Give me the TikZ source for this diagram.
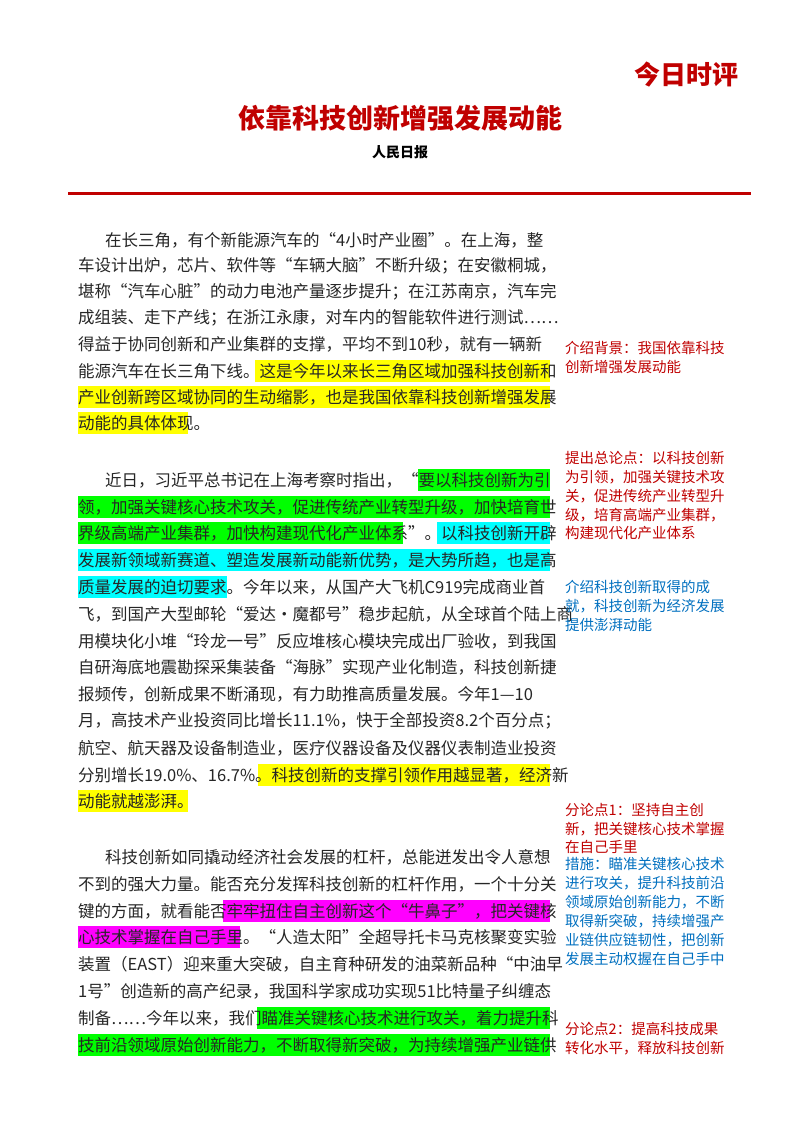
\documentclass[tikz,border=0pt]{standalone}
\usepackage{fontspec}
\setmainfont{Noto Sans CJK SC}
\newlength\cjkgap
\setlength\cjkgap{7.5pt}
\XeTeXinterchartokenstate=1
\XeTeXinterchartoks 1 1 = {\hskip\cjkgap plus 1fil minus 2pt\relax}
\XeTeXinterchartoks 1 2 = {\hskip\cjkgap plus 1fil minus 2pt\relax}
\XeTeXinterchartoks 1 3 = {\hskip\cjkgap plus 1fil minus 2pt\relax}
\XeTeXinterchartoks 2 1 = {\hskip\cjkgap plus 1fil minus 2pt\relax}
\XeTeXinterchartoks 3 1 = {\hskip\cjkgap plus 1fil minus 2pt\relax}
\XeTeXinterchartoks 3 2 = {\hskip\cjkgap plus 1fil minus 2pt\relax}
\XeTeXinterchartoks 2 2 = {\hskip\cjkgap plus 1fil minus 2pt\relax}
\XeTeXinterchartoks 3 3 = {\hskip\cjkgap plus 1fil minus 2pt\relax}
\XeTeXinterchartoks 0 1 = {\hskip\cjkgap plus 1fil minus 2pt\relax}
\XeTeXinterchartoks 1 0 = {\hskip\cjkgap plus 1fil minus 2pt\relax}
\XeTeXinterchartoks 0 2 = {\hskip\cjkgap plus 1fil minus 2pt\relax}
\XeTeXinterchartoks 3 0 = {\hskip\cjkgap plus 1fil minus 2pt\relax}
\newcommand\JL[2]{\makebox[#1][s]{#2}}
\definecolor{tred}{HTML}{C00000}
\definecolor{nblue}{HTML}{0070C0}
\definecolor{body}{HTML}{262626}
\definecolor{hy}{HTML}{FFFF00}
\definecolor{hg}{HTML}{00FF00}
\definecolor{hc}{HTML}{00FFFF}
\definecolor{hm}{HTML}{FF00FF}
\tikzset{
  bl/.style={anchor=west,inner sep=0pt,text=body,font=\fontsize{16.5}{16.5}\selectfont\setlength\cjkgap{6.3pt}},
  nl/.style={anchor=west,inner sep=0pt,font=\fontsize{14.5}{14.5}\selectfont\setlength\cjkgap{5pt}},
}
\newcommand\hl[4]{\fill[#1] (#2,#4-11) rectangle (#3,#4+11);}
\begin{document}
\begin{tikzpicture}[x=1pt,y=-1pt]
\useasboundingbox (0,0) rectangle (800,1132);
\fill[white] (0,0) rectangle (800,1132);
% header
\node[text=tred,font=\fontsize{26}{26}\selectfont\bfseries\setlength\cjkgap{0pt}] (brand) at (686,75) {今日时评};
\node[text=tred,font=\fontsize{27}{27}\selectfont\bfseries\setlength\cjkgap{0pt}] (title) at (400,118) {依靠科技创新增强发展动能};
\node[text=black,font=\fontsize{14}{14}\selectfont\bfseries\setlength\cjkgap{0pt}] (src) at (400,152) {人民日报};
\coordinate (rl) at (68,193); \coordinate (rr) at (751,193);
\draw[tred,line width=3pt] (rl) -- (rr);
% highlights p1
\hl{hy}{255}{550}{371}
\hl{hy}{78}{550}{397}
\hl{hy}{78}{188}{423}
% p2
\hl{hg}{418}{550}{480}
\hl{hg}{78}{550}{507}
\hl{hg}{78}{403}{533}
\hl{hc}{437}{550}{533}
\hl{hc}{78}{550}{560}
\hl{hc}{78}{227}{587}
\hl{hy}{258}{550}{775}
\hl{hy}{78}{188}{801}
% p3
\hl{hm}{223}{550}{911}
\hl{hm}{78}{240}{937}
\hl{hg}{257}{550}{1018}
\hl{hg}{78}{550}{1045}
% paragraph 1
\node[bl] (a1) at (105,240) {\JL{443pt}{在长三角，有个新能源汽车的“4小时产业圈”。在上海，整}};
\node[bl] (a2) at (78,266) {\JL{470pt}{车设计出炉，芯片、软件等“车辆大脑”不断升级；在安徽桐城，}};
\node[bl] (a3) at (78,292) {\JL{470pt}{堪称“汽车心脏”的动力电池产量逐步提升；在江苏南京，汽车完}};
\node[bl] (a4) at (78,318) {\JL{470pt}{成组装、走下产线；在浙江永康，对车内的智能软件进行测试……}};
\node[bl] (a5) at (78,344) {\JL{470pt}{得益于协同创新和产业集群的支撑，平均不到10秒，就有一辆新}};
\node[bl] (a6) at (78,371) {\JL{470pt}{能源汽车在长三角下线。这是今年以来长三角区域加强科技创新和}};
\node[bl] (a7) at (78,397) {\JL{470pt}{产业创新跨区域协同的生动缩影，也是我国依靠科技创新增强发展}};
\node[bl] (a8) at (78,423) {动能的具体体现。};
% paragraph 2
\node[bl] (b1) at (105,480) {\JL{443pt}{近日，习近平总书记在上海考察时指出，“要以科技创新为引}};
\node[bl] (b2) at (78,507) {\JL{470pt}{领，加强关键核心技术攻关，促进传统产业转型升级，加快培育世}};
\node[bl] (b3) at (78,533) {\JL{470pt}{界级高端产业集群，加快构建现代化产业体系”。以科技创新开辟}};
\node[bl] (b4) at (78,560) {\JL{470pt}{发展新领域新赛道、塑造发展新动能新优势，是大势所趋，也是高}};
\node[bl] (b5) at (78,587) {\JL{470pt}{质量发展的迫切要求。今年以来，从国产大飞机C919完成商业首}};
\node[bl] (b6) at (78,614) {\JL{470pt}{飞，到国产大型邮轮“爱达·魔都号”稳步起航，从全球首个陆上商}};
\node[bl] (b7) at (78,641) {\JL{470pt}{用模块化小堆“玲龙一号”反应堆核心模块完成出厂验收，到我国}};
\node[bl] (b8) at (78,667) {\JL{470pt}{自研海底地震勘探采集装备“海脉”实现产业化制造，科技创新捷}};
\node[bl] (b9) at (78,694) {\JL{470pt}{报频传，创新成果不断涌现，有力助推高质量发展。今年1—10}};
\node[bl] (b10) at (78,721) {\JL{470pt}{月，高技术产业投资同比增长11.1\%，快于全部投资8.2个百分点；}};
\node[bl] (b11) at (78,748) {\JL{470pt}{航空、航天器及设备制造业，医疗仪器设备及仪器仪表制造业投资}};
\node[bl] (b12) at (78,775) {\JL{470pt}{分别增长19.0\%、16.7\%。科技创新的支撑引领作用越显著，经济新}};
\node[bl] (b13) at (78,801) {动能就越澎湃。};
% paragraph 3
\node[bl] (c1) at (105,857) {\JL{443pt}{科技创新如同撬动经济社会发展的杠杆，总能迸发出令人意想}};
\node[bl] (c2) at (78,884) {\JL{470pt}{不到的强大力量。能否充分发挥科技创新的杠杆作用，一个十分关}};
\node[bl] (c3) at (78,911) {\JL{470pt}{键的方面，就看能否牢牢扭住自主创新这个“牛鼻子”，把关键核}};
\node[bl] (c4) at (78,937) {\JL{470pt}{心技术掌握在自己手里。“人造太阳”全超导托卡马克核聚变实验}};
\node[bl] (c5) at (78,964) {\JL{470pt}{装置（EAST）迎来重大突破，自主育种研发的油菜新品种“中油早}};
\node[bl] (c6) at (78,991) {\JL{470pt}{1号”创造新的高产纪录，我国科学家成功实现51比特量子纠缠态}};
\node[bl] (c7) at (78,1018) {\JL{470pt}{制备……今年以来，我们瞄准关键核心技术进行攻关，着力提升科}};
\node[bl] (c8) at (78,1045) {\JL{470pt}{技前沿领域原始创新能力，不断取得新突破，为持续增强产业链供}};
% notes
\begin{scope}[every node/.style={nl,text=tred}]
\node (n1a) at (565,348) {\JL{180pt}{介绍背景：我国依靠科技}};
\node (n1b) at (565,367) {创新增强发展动能};
\node (n2a) at (565,458) {\JL{180pt}{提出总论点：以科技创新}};
\node (n2b) at (565,477) {\JL{180pt}{为引领，加强关键技术攻}};
\node (n2c) at (565,496) {\JL{180pt}{关，促进传统产业转型升}};
\node (n2d) at (565,515) {\JL{180pt}{级，培育高端产业集群，}};
\node (n2e) at (565,533) {构建现代化产业体系};
\node (n4a) at (565,810) {\JL{180pt}{分论点1：坚持自主创}};
\node (n4b) at (565,829) {\JL{180pt}{新，把关键核心技术掌握}};
\node (n4c) at (565,847) {在自己手里};
\node (n5a) at (565,1029) {\JL{180pt}{分论点2：提高科技成果}};
\node (n5b) at (565,1048) {\JL{180pt}{转化水平，释放科技创新}};
\end{scope}
\begin{scope}[every node/.style={nl,text=nblue}]
\node (n3a) at (565,587) {\JL{180pt}{介绍科技创新取得的成}};
\node (n3b) at (565,606) {\JL{180pt}{就，科技创新为经济发展}};
\node (n3c) at (565,625) {提供澎湃动能};
\node (n4d) at (565,864) {\JL{180pt}{措施：瞄准关键核心技术}};
\node (n4e) at (565,883) {\JL{180pt}{进行攻关，提升科技前沿}};
\node (n4f) at (565,902) {\JL{180pt}{领域原始创新能力，不断}};
\node (n4g) at (565,921) {\JL{180pt}{取得新突破，持续增强产}};
\node (n4h) at (565,940) {\JL{180pt}{业链供应链韧性，把创新}};
\node (n4i) at (565,959) {\JL{180pt}{发展主动权握在自己手中}};
\end{scope}
\end{tikzpicture}
\end{document}
